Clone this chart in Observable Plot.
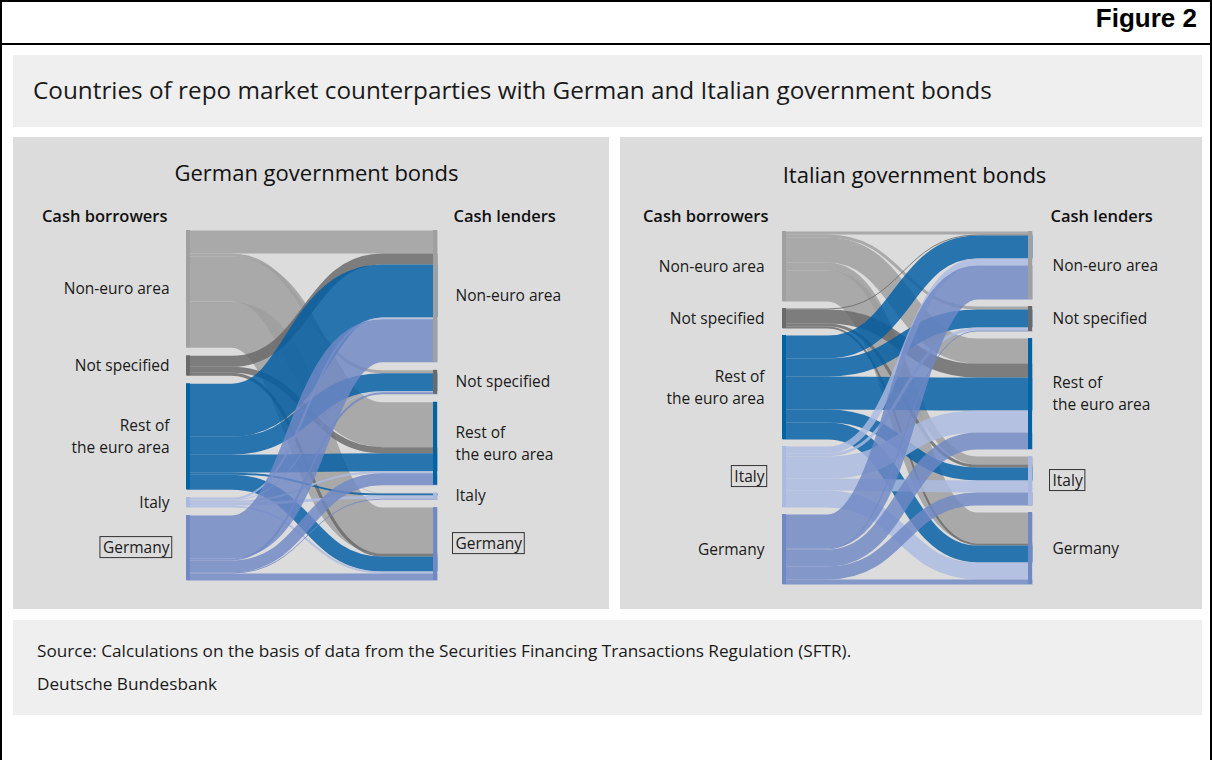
<!DOCTYPE html>
<html>
<head>
<meta charset="utf-8">
<script src="https://cdn.jsdelivr.net/npm/d3@7"></script>
<script src="https://cdn.jsdelivr.net/npm/@observablehq/plot@0.6"></script>
<style>
  html, body { margin: 0; padding: 0; background: #fff; overflow: hidden; }
  body { font-family: "Open Sans", "Noto Sans", sans-serif; color: #1a1a1a; width: 1212px; height: 760px; position: relative; }
  #frame { position: absolute; left: 0; top: 0; width: 1212px; height: 800px; box-sizing: border-box; border: 2px solid #000; }
  #hdr { position: absolute; left: 0; top: 0; width: 1212px; height: 45px; box-sizing: border-box; border-bottom: 2px solid #000; }
  #fig { position: absolute; right: 15px; top: 3px; font: bold 26px "Liberation Sans", Arial, sans-serif; color: #000; }
  #titlebox { position: absolute; left: 13px; top: 55px; width: 1189px; height: 72px; background: #efefef; }
  #titlebox div { position: absolute; left: 20px; top: 0; line-height: 70px; font-size: 24.3px; color: #1a1a1a; white-space: nowrap; }
  .panel { position: absolute; top: 137px; height: 472px; background: #dcdcdc; }
  #p1 { left: 13px; width: 596px; }
  #p2 { left: 620px; width: 582px; }
  #foot { position: absolute; left: 13px; top: 620px; width: 1189px; height: 95px; background: #efefef; }
  #foot div { position: absolute; left: 24px; font-size: 17.2px; line-height: 22px; white-space: nowrap; color: #1a1a1a; }
</style>
</head>
<body>
<div id="frame"></div>
<div id="hdr"><div id="fig">Figure 2</div></div>
<div id="titlebox"><div>Countries of repo market counterparties with German and Italian government bonds</div></div>
<div class="panel" id="p1"></div>
<div class="panel" id="p2"></div>
<div id="foot">
  <div style="top:20px">Source: Calculations on the basis of data from the Securities Financing Transactions Regulation (SFTR).</div>
  <div style="top:53px">Deutsche Bundesbank</div>
</div>
<script>
// ---------- data ----------
const categories = ["Non-euro area", "Not specified", "Rest of the euro area", "Italy", "Germany"];
const nodeLabels = ["Non-euro area", "Not specified", "Rest of\nthe euro area", "Italy", "Germany"];
const flowColors = ["#9e9e9e", "#686868", "#005da4", "#acbbe1", "#6f87c5"];
const nodeColors = ["#a0a0a0", "#6a6a6a", "#0063a3", "#aab9df", "#7088c4"];
const headers = ["Cash borrowers", "Cash lenders"];
// rows: cash borrowers (source), columns: cash lenders (target), same order as categories
const germanFlows = [
  [23, 3, 45, 0.5, 46],
  [11, 0, 6, 0, 3],
  [53, 18, 18, 2, 15],
  [2, 1, 2, 3, 2],
  [43, 2, 12, 1, 7]
];
const italianFlows = [
  [3, 3, 25, 8, 31],
  [1, 0, 14, 3, 2],
  [23, 18, 33, 13, 17],
  [7, 3, 22, 12, 17],
  [34, 1, 17, 13, 5]
];

// ---------- sankey layout ----------
function layout(flows, gap) {
  const n = flows.length;
  const out = flows.map(r => d3.sum(r));
  const inn = d3.range(n).map(j => d3.sum(flows, r => r[j]));
  const total = d3.sum(out);
  const H = total + gap * (n - 1);
  const leftTop = [], rightTop = [];
  let a = 0, b = 0;
  for (let i = 0; i < n; i++) {
    leftTop.push(a); a += out[i] + gap;
    rightTop.push(b); b += inn[i] + gap;
  }
  const lOff = leftTop.slice(), rOff = rightTop.slice();
  const links = [];
  for (let i = 0; i < n; i++) {
    for (let j = 0; j < n; j++) {
      const v = flows[i][j];
      if (v > 0) {
        links.push({src: i, tgt: j, value: v, y1: lOff[i] + v / 2, y2: rOff[j] + v / 2});
      }
      lOff[i] += v; rOff[j] += v;
    }
  }
  const nodes = [];
  for (let i = 0; i < n; i++) nodes.push({side: 0, i, y1: leftTop[i], y2: leftTop[i] + out[i]});
  for (let i = 0; i < n; i++) nodes.push({side: 1, i, y1: rightTop[i], y2: rightTop[i] + inn[i]});
  return {links, nodes, H};
}

// flat – S-curve – flat link shape
function sankeyCurve(context) {
  let pts = [];
  return {
    areaStart() {}, areaEnd() {},
    lineStart() { pts = []; },
    point(x, y) { pts.push([+x, +y]); },
    lineEnd() {
      if (pts.length < 2) return;
      const [x0, y0] = pts[0], [x1, y1] = pts[pts.length - 1];
      const w = x1 - x0;
      const a = x0 + w * 0.18, b = x1 - w * 0.22, m = (a + b) / 2;
      context.moveTo(x0, y0);
      context.lineTo(a, y0);
      context.bezierCurveTo(m, y0, m, y1, b, y1);
      context.lineTo(x1, y1);
    }
  };
}

function panel(el, o) {
  const {links, nodes, H} = layout(o.flows, o.gap);
  const k = (o.bottom - o.top) / H;
  const nw = 4 / (o.x1 - o.x0);
  const font = '"Open Sans", "Noto Sans", sans-serif';
  const svg = Plot.plot({
    width: o.width,
    height: o.height,
    margin: 0,
    x: {domain: [0, 1], range: [o.x0, o.x1], axis: null},
    y: {domain: [0, H], range: [o.top, o.bottom], axis: null},
    style: {background: "transparent", fontFamily: font, color: "#1a1a1a", overflow: "visible"},
    marks: [
      Plot.link(links, {
        x1: d => 0, x2: d => 1, y1: "y1", y2: "y2",
        stroke: d => flowColors[d.src],
        strokeWidth: d => d.value * k,
        strokeOpacity: 0.82,
        curve: sankeyCurve
      }),
      Plot.rect(nodes, {
        x1: d => d.side ? 1 - nw : 0,
        x2: d => d.side ? 1 : nw,
        y1: "y1", y2: "y2",
        fill: d => nodeColors[d.i]
      }),
      Plot.text(nodes.filter(d => d.side === 0), {
        x: d => 0, y: d => (d.y1 + d.y2) / 2, text: d => nodeLabels[d.i],
        textAnchor: "end", dx: o.labDxL, dy: -2, fontSize: 15.5, lineHeight: 1.42, fill: "#1a1a1a"
      }),
      Plot.text(nodes.filter(d => d.side === 1), {
        x: d => 1, y: d => (d.y1 + d.y2) / 2, text: d => nodeLabels[d.i],
        textAnchor: "start", dx: o.labDxR, dy: -2, fontSize: 15.5, lineHeight: 1.42, fill: "#1a1a1a"
      }),
      Plot.text([headers[0]], {
        x: d => 0, frameAnchor: "top", lineAnchor: "middle", dy: 79, dx: o.headDxL, text: d => d,
        textAnchor: "end", fontSize: 16.5, fontWeight: 600, fill: "#111"
      }),
      Plot.text([headers[1]], {
        x: d => 1, frameAnchor: "top", lineAnchor: "middle", dy: 79, dx: o.headDxR, text: d => d,
        textAnchor: "start", fontSize: 16.5, fontWeight: 600, fill: "#111"
      }),
      Plot.text([o.title], {
        frameAnchor: "top", lineAnchor: "middle", dy: o.titleDy, dx: o.titleDx, text: d => d,
        fontSize: 22, fill: "#111"
      })
    ]
  });
  el.appendChild(svg);
  // boxed labels
  svg.querySelectorAll("text").forEach(t => {
    if (t.textContent === o.boxed) {
      const bb = t.getBBox();
      const r = document.createElementNS("http://www.w3.org/2000/svg", "rect");
      r.setAttribute("x", bb.x - 3);
      r.setAttribute("y", bb.y + 0.5);
      r.setAttribute("width", bb.width + 5);
      r.setAttribute("height", bb.height - 1);
      r.setAttribute("fill", "none");
      r.setAttribute("stroke", "#333");
      r.setAttribute("stroke-width", 1);
      const tr = t.getAttribute("transform");
      if (tr) r.setAttribute("transform", tr);
      t.parentNode.insertBefore(r, t);
    }
  });
}

panel(document.getElementById("p1"), {
  flows: germanFlows, gap: 8, width: 596, height: 472,
  x0: 173, x1: 424, top: 93, bottom: 443,
  title: "German government bonds", titleDx: 5, titleDy: 36, boxed: "Germany",
  labDxL: -17, labDxR: 18, headDxL: -19, headDxR: 16
});
panel(document.getElementById("p2"), {
  flows: italianFlows, gap: 7, width: 582, height: 472,
  x0: 162, x1: 412, top: 94, bottom: 447,
  title: "Italian government bonds", titleDx: 3, titleDy: 38, boxed: "Italy",
  labDxL: -18, labDxR: 20, headDxL: -14, headDxR: 18
});
</script>
</body>
</html>
